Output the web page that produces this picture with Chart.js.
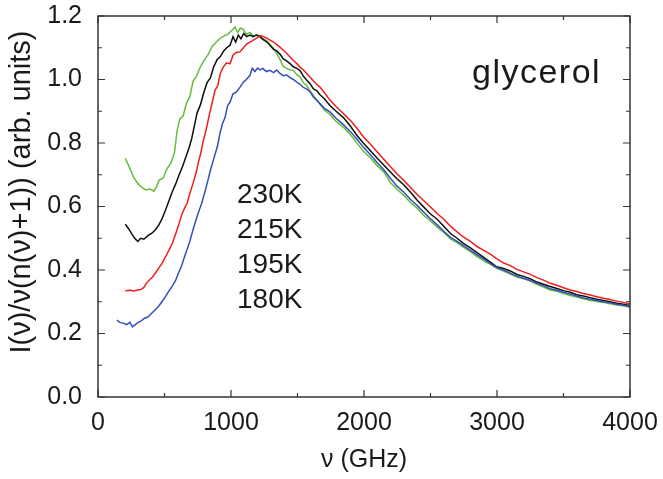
<!DOCTYPE html>
<html>
<head>
<meta charset="utf-8">
<script src="https://cdn.jsdelivr.net/npm/chart.js@4.4.1/dist/chart.umd.min.js"></script>
<style>
  html, body { margin: 0; padding: 0; background: #fff; }
  #wrap { width: 663px; height: 479px; }
</style>
</head>
<body>
<div id="wrap"><canvas id="c" width="663" height="479"></canvas></div>
<script>
// ---------------- data ----------------
const xTicks = [0, 1000, 2000, 3000, 4000];
const yTicks = [0.0, 0.2, 0.4, 0.6, 0.8, 1.0, 1.2];
const seriesLabels = ["230K", "215K", "195K", "180K"];

const freq230 = [205,240,270,300,330,360,390,420,440,460,490,520,550,575,595,615,640,665,690,715,740,770,800,830,860,890,920,950,975,1000,1030,1050,1070,1093,1115,1143,1170,1195,1218,1245,1270,1293,1320,1344,1370,1394,1420,1444,1469,1495,1519,1545,1570,1594,1620,1644,1670,1700,1744,1790,1845,1900,1950,1995,2050,2100,2150,2200,2246,2300,2350,2400,2450,2496,2550,2600,2650,2700,2747,2800,2850,2900,2950,2998,3050,3100,3150,3200,3248,3300,3350,3400,3450,3500,3550,3600,3650,3700,3750,3800,3850,3900,3950,4000];
const int230 = [0.752,0.72,0.69,0.672,0.66,0.652,0.655,0.648,0.662,0.683,0.69,0.72,0.738,0.77,0.84,0.875,0.885,0.925,0.945,0.995,1.01,1.04,1.062,1.08,1.105,1.118,1.13,1.138,1.142,1.152,1.165,1.148,1.162,1.158,1.142,1.148,1.136,1.142,1.135,1.128,1.122,1.11,1.098,1.082,1.062,1.04,1.035,1.03,1.028,1.015,1.008,0.99,0.98,0.965,0.95,0.935,0.922,0.905,0.89,0.868,0.85,0.825,0.798,0.775,0.752,0.728,0.708,0.675,0.655,0.635,0.612,0.595,0.572,0.556,0.535,0.518,0.498,0.486,0.472,0.458,0.442,0.43,0.418,0.405,0.397,0.387,0.378,0.372,0.365,0.355,0.346,0.337,0.333,0.326,0.32,0.315,0.309,0.305,0.301,0.298,0.294,0.29,0.287,0.283];

const freq215 = [205,230,255,280,300,320,345,376,405,430,455,480,507,535,560,585,610,635,660,685,705,725,745,770,795,820,845,870,895,920,945,968,993,1015,1035,1055,1075,1095,1118,1143,1165,1190,1218,1245,1270,1293,1320,1344,1368,1394,1420,1444,1469,1495,1519,1545,1570,1594,1620,1644,1669,1700,1744,1790,1845,1900,1950,1995,2050,2100,2150,2200,2246,2300,2350,2400,2450,2496,2550,2600,2650,2700,2747,2800,2850,2900,2950,2998,3050,3100,3150,3200,3248,3300,3350,3400,3450,3500,3550,3600,3650,3700,3750,3800,3850,3900,3950,4000];
const int215 = [0.544,0.53,0.513,0.498,0.49,0.5,0.497,0.508,0.516,0.526,0.54,0.56,0.588,0.62,0.648,0.672,0.7,0.725,0.755,0.785,0.815,0.855,0.895,0.92,0.958,0.99,1.005,1.04,1.062,1.072,1.09,1.1,1.108,1.135,1.118,1.14,1.128,1.145,1.135,1.14,1.135,1.14,1.134,1.125,1.118,1.108,1.095,1.09,1.08,1.065,1.058,1.05,1.04,1.035,1.028,1.01,0.998,0.987,0.97,0.965,0.952,0.94,0.918,0.9,0.88,0.852,0.822,0.8,0.775,0.752,0.73,0.708,0.688,0.668,0.645,0.62,0.598,0.578,0.56,0.538,0.515,0.5,0.484,0.47,0.455,0.44,0.425,0.41,0.405,0.397,0.386,0.38,0.373,0.362,0.355,0.348,0.342,0.335,0.33,0.322,0.318,0.313,0.308,0.304,0.3,0.295,0.292,0.288];

const freq195 = [205,240,270,300,324,345,363,390,410,429,455,480,507,533,559,585,610,630,650,670,690,714,740,755,772,793,815,840,860,880,900,920,942,965,993,1017,1040,1068,1093,1118,1143,1168,1193,1218,1245,1270,1293,1320,1344,1368,1394,1420,1444,1469,1495,1519,1545,1570,1594,1620,1644,1669,1700,1744,1790,1845,1900,1950,1995,2050,2100,2150,2200,2246,2300,2350,2400,2450,2496,2550,2600,2650,2700,2747,2800,2850,2900,2950,2998,3050,3100,3150,3200,3248,3300,3350,3400,3450,3500,3550,3600,3650,3700,3750,3800,3850,3900,3950,4000];
const int195 = [0.335,0.336,0.334,0.337,0.339,0.345,0.358,0.37,0.378,0.389,0.405,0.42,0.441,0.462,0.484,0.515,0.547,0.575,0.594,0.61,0.64,0.672,0.71,0.74,0.767,0.809,0.845,0.895,0.93,0.966,0.98,1.02,1.039,1.052,1.05,1.078,1.085,1.087,1.1,1.112,1.118,1.124,1.13,1.138,1.135,1.13,1.124,1.118,1.11,1.102,1.092,1.082,1.071,1.06,1.05,1.039,1.03,1.018,1.008,0.995,0.985,0.976,0.96,0.935,0.915,0.893,0.87,0.845,0.82,0.795,0.772,0.748,0.725,0.704,0.682,0.66,0.638,0.618,0.6,0.578,0.56,0.538,0.52,0.504,0.49,0.474,0.462,0.45,0.436,0.422,0.414,0.402,0.394,0.387,0.376,0.368,0.358,0.352,0.344,0.337,0.332,0.326,0.321,0.316,0.311,0.307,0.302,0.298,0.293];

const freq180 = [142,165,194,215,240,259,280,299,325,350,375,400,429,455,480,507,535,560,584,610,630,650,670,690,714,735,758,780,800,825,845,870,897,917,935,955,975,993,1015,1040,1068,1090,1115,1143,1160,1180,1200,1218,1240,1265,1293,1320,1344,1368,1394,1420,1444,1469,1495,1519,1545,1570,1594,1620,1644,1669,1700,1744,1790,1845,1900,1950,1995,2050,2100,2150,2200,2246,2300,2350,2400,2450,2496,2550,2600,2650,2700,2747,2800,2850,2900,2950,2998,3050,3100,3150,3200,3248,3300,3350,3400,3450,3500,3550,3600,3650,3700,3750,3800,3850,3900,3950,4000];
const int180 = [0.242,0.235,0.232,0.228,0.235,0.221,0.228,0.234,0.24,0.248,0.252,0.262,0.274,0.285,0.3,0.316,0.335,0.35,0.368,0.395,0.415,0.441,0.465,0.49,0.526,0.555,0.585,0.61,0.64,0.68,0.714,0.75,0.788,0.83,0.86,0.88,0.918,0.929,0.955,0.96,0.976,0.99,1.0,1.013,1.035,1.025,1.036,1.03,1.035,1.025,1.029,1.022,1.03,1.019,1.012,1.014,1.006,1.0,0.992,0.985,0.975,0.97,0.961,0.945,0.935,0.924,0.91,0.898,0.878,0.858,0.835,0.81,0.787,0.762,0.738,0.715,0.688,0.665,0.645,0.622,0.603,0.582,0.563,0.542,0.522,0.503,0.49,0.477,0.462,0.448,0.435,0.42,0.408,0.4,0.39,0.38,0.374,0.368,0.358,0.35,0.341,0.336,0.33,0.324,0.318,0.312,0.308,0.304,0.3,0.297,0.292,0.289,0.285];

// ---------------- build ----------------
function pts(xs, ys) { return xs.map((x, i) => ({ x: x, y: ys[i] })); }

const FONT = "'Liberation Sans', Arial, Helvetica, sans-serif";
const TXT = '#1a1a1a';
const AX = '#333333';

function zeroPad(s) { s.paddingTop = 0; s.paddingBottom = 0; s.paddingLeft = 0; s.paddingRight = 0; }

const decor = {
  id: 'decor',
  afterDraw(chart) {
    const ctx = chart.ctx;
    const a = chart.chartArea;
    const xs = chart.scales.x, ys = chart.scales.y;
    ctx.save();
    // frame
    ctx.strokeStyle = AX;
    ctx.lineWidth = 1.5;
    ctx.strokeRect(a.left, a.top, a.right - a.left, a.bottom - a.top);
    // x ticks (inward, bottom and top)
    ctx.lineWidth = 1.2;
    for (let v = 0; v <= 4000; v += 500) {
      const px = xs.getPixelForValue(v);
      const len = (v % 1000 === 0) ? 7 : 4;
      ctx.beginPath();
      ctx.moveTo(px, a.bottom); ctx.lineTo(px, a.bottom - len);
      ctx.moveTo(px, a.top); ctx.lineTo(px, a.top + len);
      ctx.stroke();
    }
    // y ticks (inward, left and right)
    for (let k = 0; k <= 12; k++) {
      const v = k / 10;
      const py = ys.getPixelForValue(v);
      const len = (k % 2 === 0) ? 7 : 4;
      ctx.beginPath();
      ctx.moveTo(a.left, py); ctx.lineTo(a.left + len, py);
      ctx.moveTo(a.right, py); ctx.lineTo(a.right - len, py);
      ctx.stroke();
    }
    // axis titles
    ctx.fillStyle = TXT;
    ctx.font = '25px ' + FONT;
    ctx.textAlign = 'center';
    ctx.textBaseline = 'middle';
    ctx.fillText('\u03BD (GHz)', (a.left + a.right) / 2, 460);
    ctx.save();
    ctx.translate(22, 192);
    ctx.rotate(-Math.PI / 2);
    ctx.font = '29px ' + FONT;
    ctx.fillText('I(\u03BD)/\u03BD(n(\u03BD)+1)) (arb. units)', 0, 0);
    ctx.restore();
    // annotations
    ctx.textAlign = 'left';
    ctx.textBaseline = 'alphabetic';
    ctx.font = '28px ' + FONT;
    const baseY = [203, 238, 273, 308];
    seriesLabels.forEach((t, i) => ctx.fillText(t, 237, baseY[i]));
    ctx.font = '34px ' + FONT;
    if ('letterSpacing' in ctx) ctx.letterSpacing = '1.5px';
    ctx.fillText('glycerol', 472, 83);
    ctx.restore();
  }
};

new Chart(document.getElementById('c'), {
  type: 'line',
  data: {
    datasets: [
      { label: '180K', data: pts(freq180, int180), borderColor: 'rgb(50,80,185)' },
      { label: '195K', data: pts(freq195, int195), borderColor: 'rgb(240,30,30)' },
      { label: '215K', data: pts(freq215, int215), borderColor: 'rgb(15,15,15)' },
      { label: '230K', data: pts(freq230, int230), borderColor: 'rgb(100,190,60)' }
    ].map(d => Object.assign(d, { borderWidth: 1.5, pointRadius: 0, tension: 0, fill: false }))
  },
  options: {
    responsive: false,
    animation: false,
    events: [],
    layout: { padding: { left: 0, right: 33, top: 16, bottom: 0 } },
    plugins: { legend: { display: false }, tooltip: { enabled: false } },
    scales: {
      x: {
        type: 'linear',
        min: xTicks[0], max: xTicks[xTicks.length - 1],
        afterBuildTicks(s) { s.ticks = xTicks.map(v => ({ value: v })); },
        afterFit(s) { s.height = 82; zeroPad(s); },
        grid: { display: false, drawTicks: false },
        border: { display: false },
        ticks: { color: TXT, font: { size: 25, family: FONT }, padding: 11, maxRotation: 0,
                 callback: v => String(v) }
      },
      y: {
        type: 'linear',
        min: yTicks[0], max: yTicks[yTicks.length - 1],
        afterBuildTicks(s) { s.ticks = yTicks.map(v => ({ value: v })); },
        afterFit(s) { s.width = 98; zeroPad(s); },
        grid: { display: false, drawTicks: false },
        border: { display: false },
        ticks: { color: TXT, font: { size: 25, family: FONT }, padding: 16,
                 callback: v => Number(v).toFixed(1) }
      }
    }
  },
  plugins: [decor]
});
</script>
</body>
</html>
